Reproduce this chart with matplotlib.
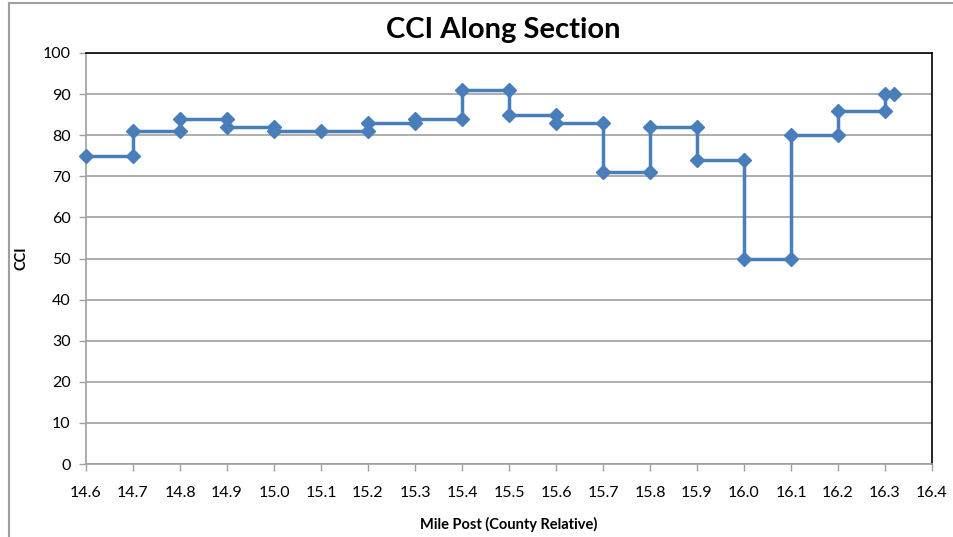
import matplotlib
matplotlib.use("Agg")
import matplotlib.pyplot as plt
from matplotlib.lines import Line2D

mile_post = [14.6, 14.7, 14.7, 14.8, 14.8, 14.9, 14.9, 15.0, 15.0, 15.1, 15.2, 15.2,
             15.3, 15.3, 15.4, 15.4, 15.5, 15.5, 15.6, 15.6, 15.7, 15.7, 15.8, 15.8,
             15.9, 15.9, 16.0, 16.0, 16.1, 16.1, 16.2, 16.2, 16.3, 16.3, 16.32]
cci = [75, 75, 81, 81, 84, 84, 82, 82, 81, 81, 81, 83,
       83, 84, 84, 91, 91, 85, 85, 83, 83, 71, 71, 82,
       82, 74, 74, 50, 50, 80, 80, 86, 86, 90, 90]
x_ticks = [14.6, 14.7, 14.8, 14.9, 15.0, 15.1, 15.2, 15.3, 15.4, 15.5, 15.6, 15.7,
           15.8, 15.9, 16.0, 16.1, 16.2, 16.3, 16.4]
y_ticks = list(range(0, 101, 10))

plt.rcParams['font.family'] = ['Lato', 'DejaVu Sans']

fig = plt.figure(figsize=(9.54, 5.37), dpi=100)
ax = fig.add_axes([86/954, 1-464/537, (932-86)/954, (464-53)/537])

ax.plot(mile_post, cci, color='#4A7EBB', lw=2.5, marker='D', markersize=7.5,
        markerfacecolor='#4A7EBB', markeredgecolor='#4A7EBB', clip_on=False, zorder=3)

ax.set_xlim(14.6, 16.4)
ax.set_ylim(0, 100)
ax.set_xticks(x_ticks)
ax.set_xticklabels([f"{t:.1f}" for t in x_ticks])
ax.set_yticks(y_ticks)
ax.yaxis.grid(True, color='#A0A0A0', lw=1.2)
ax.set_axisbelow(True)
ax.tick_params(axis='both', direction='out', length=5, width=1, color='#A0A0A0',
               labelsize=11.5, pad=6)
ax.tick_params(axis='x', pad=11)
for side in ['left', 'bottom']:
    ax.spines[side].set_color('#A0A0A0')
    ax.spines[side].set_linewidth(1.2)
for side in ['top', 'right']:
    ax.spines[side].set_color('black')
    ax.spines[side].set_linewidth(1.2)

ax.set_xlabel('Mile Post (County Relative)', fontsize=10.5, fontweight='bold', labelpad=12)
ax.set_ylabel('CCI', fontsize=10.5, fontweight='bold', labelpad=10)
fig.text(0.528, 0.945, 'CCI Along Section', ha='center', va='center',
         fontsize=21, fontweight='bold')

# outer chart border (top and left)
fig.add_artist(Line2D([9/954, 1], [1-3/537, 1-3/537], transform=fig.transFigure,
                      color='#A0A0A0', lw=1.5))
fig.add_artist(Line2D([9/954, 9/954], [0, 1-3/537], transform=fig.transFigure,
                      color='#A0A0A0', lw=1.5))

fig.savefig('out.png', dpi=100)
